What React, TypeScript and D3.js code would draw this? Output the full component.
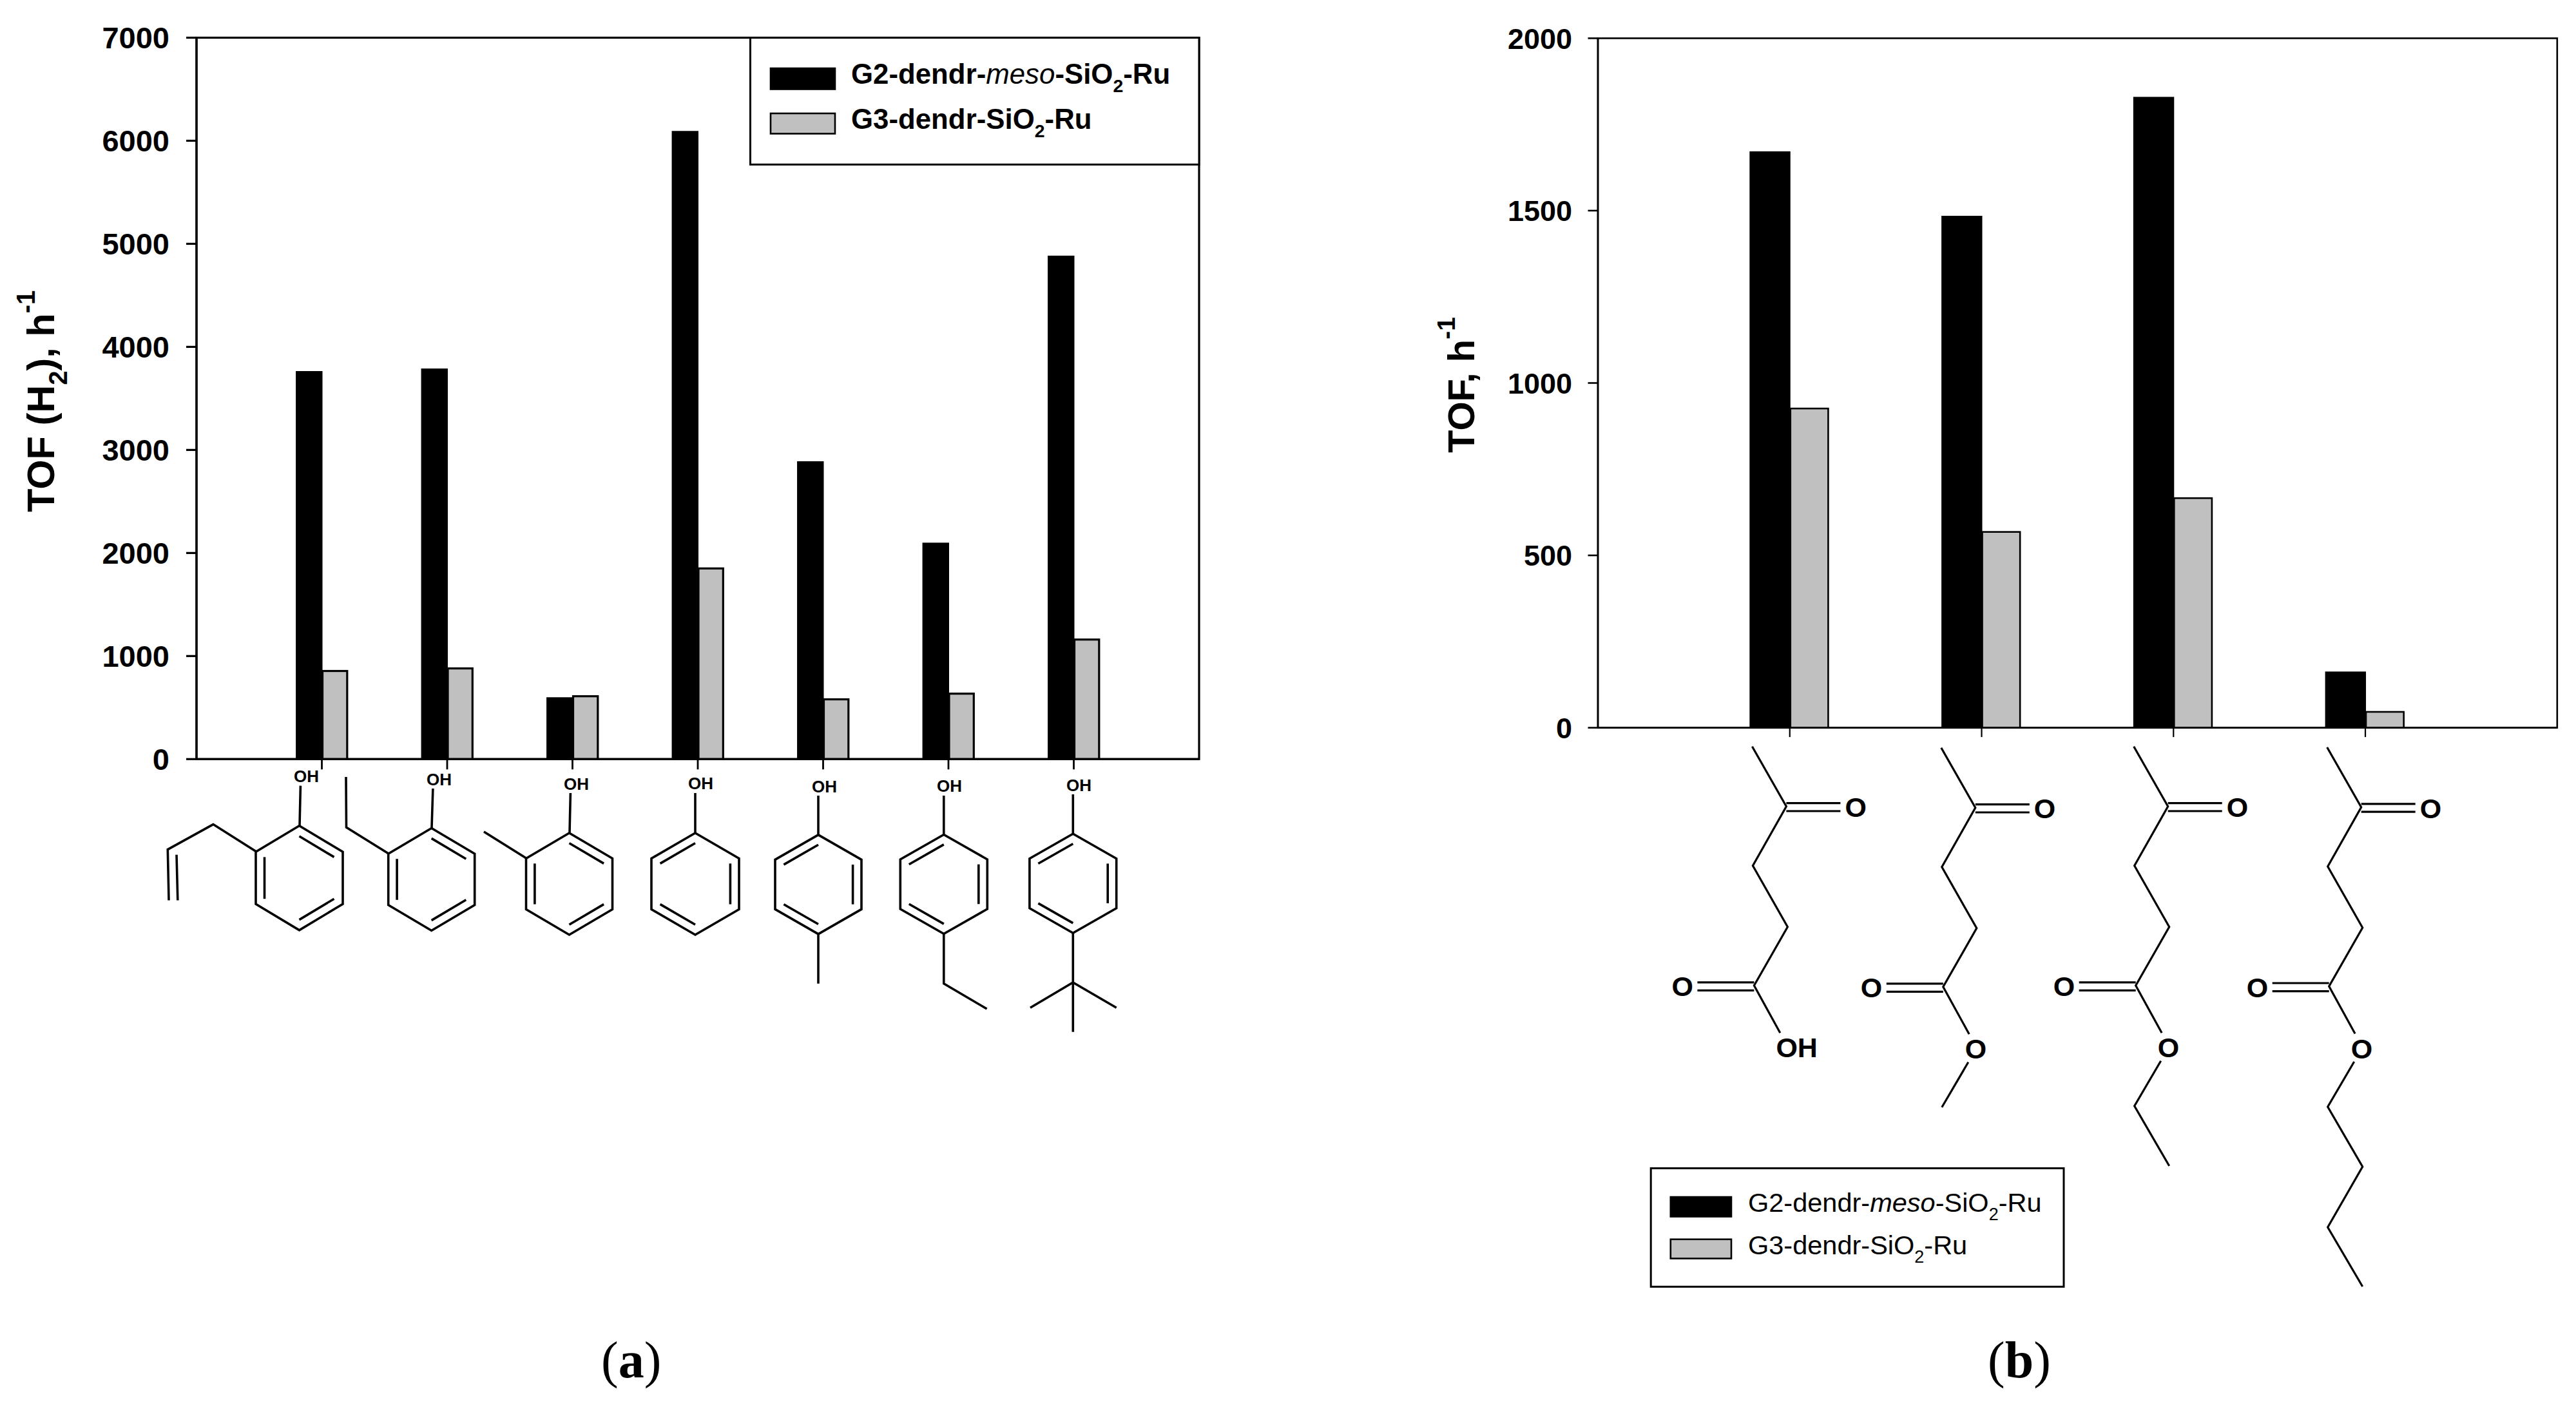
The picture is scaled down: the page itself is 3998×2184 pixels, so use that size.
import { useEffect, useRef } from "react";
import * as d3 from "d3";

// panel (a): phenols
const phenols = ["2-allylphenol", "2-ethylphenol", "2-methylphenol", "phenol", "4-methylphenol", "4-ethylphenol", "4-tert-butylphenol"];
const phenolG2 = [3765, 3790, 600, 6095, 2890, 2100, 4885];
const phenolG3 = [855, 880, 610, 1850, 580, 635, 1160];
const phenolTicks = [0, 1000, 2000, 3000, 4000, 5000, 6000, 7000];

// panel (b): levulinates
const esters = ["levulinic acid", "methyl levulinate", "ethyl levulinate", "butyl levulinate"];
const esterG2 = [1672, 1485, 1830, 163];
const esterG3 = [926, 568, 666, 46];
const esterTicks = [0, 500, 1000, 1500, 2000];

const SANS = "'Liberation Sans', Arial, sans-serif";
const SERIF = "'Liberation Serif', 'Times New Roman', serif";
const GREY = "#c0c0c0";

type Pt = [number, number];
type Span = { t: string; italic?: boolean; normal?: boolean; dy?: number; size?: number };

const path = d3.line<Pt>();

// ring, substituent bonds and OH label of each phenol
const rings = [
  { cx: 464.5, cy: 1362.8, hw: 67.5, hy: 81, para: false, oh: [456, 1214], bonds: [[[466.4, 1219.6], [465, 1282]], [[397.5, 1321.8], [330.9, 1279.6], [260.3, 1318.6], [262, 1397.5]], [[274, 1326.8], [275.8, 1397.5]]] },
  { cx: 669.7, cy: 1365, hw: 67, hy: 79.5, para: false, oh: [662, 1219], bonds: [[[671.9, 1224], [670, 1285.5]], [[603, 1325], [537.5, 1284.3], [537, 1206]]] },
  { cx: 883.5, cy: 1372, hw: 67, hy: 79, para: false, oh: [875, 1226], bonds: [[[885.4, 1231], [884, 1293]], [[816.5, 1332], [751, 1291]]] },
  { cx: 1079, cy: 1372, hw: 68, hy: 79, para: true, oh: [1068, 1225], bonds: [[[1079, 1231], [1079, 1293]]] },
  { cx: 1270, cy: 1372.9, hw: 67, hy: 77, para: true, oh: [1260, 1230], bonds: [[[1270, 1235], [1270, 1296]], [[1270, 1450], [1270, 1526.8]]] },
  { cx: 1464.8, cy: 1372.5, hw: 67.5, hy: 77, para: true, oh: [1454, 1229], bonds: [[[1464.8, 1235], [1464.8, 1295.5]], [[1464.8, 1449.5], [1464.8, 1526.8], [1531.6, 1566]]] },
  { cx: 1665.3, cy: 1371.3, hw: 67.4, hy: 77, para: true, oh: [1655, 1228], bonds: [[[1665.3, 1233], [1665.3, 1294.3]], [[1665.3, 1448.3], [1665.3, 1601.8]], [[1599, 1564.3], [1665.3, 1525], [1732.7, 1564.3]]] },
];

// shared skeleton of the levulinates, relative to the free end of the acetyl group
const chainOrigins: Pt[] = [[2719.4, 1158.8], [3012.8, 1160.8], [3311.7, 1158.8], [3611.7, 1160]];
const backbone: Pt[] = [[0, 0], [53, 93], [1, 185], [55, 280], [3, 371], [43.4, 444.5]];
const topCarbonyl: Pt[][] = [[[53, 87.8], [137, 87.8]], [[53, 100.2], [137, 100.2]]];
const lowCarbonyl: Pt[][] = [[[3, 366], [-85, 366]], [[3, 378.6], [-85, 378.6]]];
const tail: Pt[] = [[42, 488], [1, 558], [55, 651], [1, 745], [55, 837]];
const tailLengths = [0, 2, 3, 5];
const etherLabels = ["OH", "O", "O", "O"];

function addText(g: any, x: number, y: number, size: number, spans: Span[], attrs: Record<string, any> = {}) {
  const text = g.append("text").attr("x", x).attr("y", y).attr("font-size", size).attr("font-family", SANS).attr("fill", "#000");
  Object.entries(attrs).forEach(([k, v]) => text.attr(k, v));
  let lift = 0;
  spans.forEach((s) => {
    const dy = (s.dy ?? 0) - lift;
    lift = s.dy ?? 0;
    const span = text.append("tspan").attr("dy", dy).text(s.t);
    if (s.size) span.attr("font-size", s.size);
    if (s.italic) span.attr("font-style", "italic");
    if (s.normal) span.attr("font-weight", "normal");
  });
  return text;
}

function barPanel(svg: any, opts: {
  cats: string[]; g2: number[]; g3: number[]; ticks: number[]; max: number;
  left: number; right: number; top: number; bottom: number;
  sw: number; font: number; tick: number; pad: number; xTick: number; blackFrac: number; greyFrac: number;
}) {
  const { cats, g2, g3, ticks, max, left, right, top, bottom, sw, font, tick, pad, xTick, blackFrac, greyFrac } = opts;
  const x = d3.scalePoint<string>().domain(cats).range([left, right]).padding(1);
  const y = d3.scaleLinear().domain([0, max]).range([bottom, top]);
  const blackW = x.step() * blackFrac;
  const greyW = x.step() * greyFrac;
  const g = svg.append("g");

  g.append("rect").attr("x", left).attr("y", top).attr("width", right - left).attr("height", bottom - top)
    .attr("fill", "none").attr("stroke", "#000").attr("stroke-width", sw);

  g.selectAll("rect.g3").data(cats).join("rect").attr("class", "g3")
    .attr("x", (d: string) => x(d)! + 1)
    .attr("y", (_: string, i: number) => y(g3[i]))
    .attr("width", greyW)
    .attr("height", (_: string, i: number) => bottom - y(g3[i]))
    .attr("fill", GREY).attr("stroke", "#000").attr("stroke-width", sw);

  g.selectAll("rect.g2").data(cats).join("rect").attr("class", "g2")
    .attr("x", (d: string) => x(d)! - blackW + 1)
    .attr("y", (_: string, i: number) => y(g2[i]))
    .attr("width", blackW)
    .attr("height", (_: string, i: number) => bottom - y(g2[i]))
    .attr("fill", "#000");

  const yAxis = g.append("g").attr("transform", `translate(${left},0)`)
    .call(d3.axisLeft(y).tickValues(ticks).tickFormat(d3.format("d") as any).tickSize(tick).tickPadding(pad).tickSizeOuter(0).offset(0));
  yAxis.attr("font-family", SANS).attr("font-size", font).attr("font-weight", "bold");
  yAxis.selectAll("line").attr("stroke", "#000").attr("stroke-width", sw);
  yAxis.select(".domain").attr("stroke", "#000").attr("stroke-width", sw);
  yAxis.selectAll("text").attr("fill", "#000").attr("dy", "0.36em");

  const xAxis = g.append("g").attr("transform", `translate(0,${bottom})`)
    .call(d3.axisBottom(x).tickSize(xTick).tickFormat(() => "").tickSizeOuter(0).offset(0));
  xAxis.selectAll("line").attr("stroke", "#000").attr("stroke-width", sw - 0.4);
  xAxis.select(".domain").attr("stroke", "#000").attr("stroke-width", sw);
}

function legend(svg: any, o: {
  x0: number; x1: number; y0: number; y1: number; sw0: number; sw1: number; swY: Pt[]; textX: number; baselines: number[];
  size: number; sub: number; bold: boolean;
}) {
  const g = svg.append("g");
  g.append("rect").attr("x", o.x0).attr("y", o.y0).attr("width", o.x1 - o.x0).attr("height", o.y1 - o.y0)
    .attr("fill", "#fff").attr("stroke", "#000").attr("stroke-width", 3);
  o.swY.forEach(([a, b], i) => {
    g.append("rect").attr("x", o.sw0).attr("y", a).attr("width", o.sw1 - o.sw0).attr("height", b - a)
      .attr("fill", i === 0 ? "#000" : GREY).attr("stroke", "#000").attr("stroke-width", 2.6);
  });
  const sub = o.size * 0.65;
  const weight = o.bold ? "bold" : "normal";
  addText(g, o.textX, o.baselines[0], o.size, [
    { t: "G2-dendr-" }, { t: "meso", italic: true, normal: true }, { t: "-SiO" }, { t: "2", dy: o.sub, size: sub }, { t: "-Ru" },
  ], { "font-weight": weight });
  addText(g, o.textX, o.baselines[1], o.size, [
    { t: "G3-dendr-SiO" }, { t: "2", dy: o.sub, size: sub }, { t: "-Ru" },
  ], { "font-weight": weight });
}

function drawPhenols(svg: any) {
  const g = svg.append("g").attr("fill", "none").attr("stroke", "#000").attr("stroke-width", 3.6);
  rings.forEach((r) => {
    const v: Pt[] = [[0, -1], [1, -0.5], [1, 0.5], [0, 1], [-1, 0.5], [-1, -0.5]].map(([a, b]) => [r.cx + a * r.hw, r.cy + b * r.hy]);
    g.append("path").attr("d", path(v)! + "Z");
    const doubles = r.para ? [[5, 0], [1, 2], [3, 4]] : [[0, 1], [2, 3], [4, 5]];
    doubles.forEach(([a, b]) => {
      const inner = [v[a], v[b]].map(([px, py]) => [r.cx + 0.8 * (px - r.cx), r.cy + 0.8 * (py - r.cy)] as Pt);
      g.append("path").attr("d", path(inner));
    });
    r.bonds.forEach((b) => g.append("path").attr("d", path(b as Pt[])));
    addText(svg, r.oh[0], r.oh[1], 26, [{ t: "OH" }], { "font-weight": "bold" });
  });
}

function drawEsters(svg: any) {
  chainOrigins.forEach(([ox, oy], i) => {
    const g = svg.append("g").attr("transform", `translate(${ox},${oy})`);
    const bonds = g.append("g").attr("fill", "none").attr("stroke", "#000").attr("stroke-width", 3.2);
    bonds.append("path").attr("d", path(backbone));
    [...topCarbonyl, ...lowCarbonyl].forEach((b) => bonds.append("path").attr("d", path(b)));
    if (tailLengths[i] > 0) bonds.append("path").attr("d", path(tail.slice(0, tailLengths[i])));
    addText(g, 144, 109.5, 43, [{ t: "O" }], { "font-weight": "bold" });
    addText(g, -125, 387.5, 43, [{ t: "O" }], { "font-weight": "bold" });
    addText(g, 37, 482.5, 43, [{ t: etherLabels[i] }], { "font-weight": "bold" });
  });
}

function caption(svg: any, x: number, letter: string) {
  const text = svg.append("text").attr("x", x).attr("y", 2138).attr("font-family", SERIF).attr("font-size", 80).attr("fill", "#000");
  text.append("tspan").text("(");
  text.append("tspan").attr("font-weight", "bold").text(letter);
  text.append("tspan").text(")");
}

export default function App() {
  const svgRef = useRef<SVGSVGElement>(null);

  useEffect(() => {
    if (!svgRef.current) return;
    const svg = d3.select(svgRef.current);
    svg.selectAll("*").remove();

    barPanel(svg, {
      cats: phenols, g2: phenolG2, g3: phenolG3, ticks: phenolTicks, max: 7000,
      left: 305, right: 1861, top: 58.5, bottom: 1178.3,
      sw: 3.2, font: 47, tick: 16, pad: 26, xTick: 16, blackFrac: 0.213, greyFrac: 0.197,
    });
    barPanel(svg, {
      cats: esters, g2: esterG2, g3: esterG3, ticks: esterTicks, max: 2000,
      left: 2480, right: 3968.8, top: 59.4, bottom: 1129.6,
      sw: 2.6, font: 45, tick: 15.5, pad: 24.5, xTick: 14.5, blackFrac: 0.213, greyFrac: 0.197,
    });

    addText(svg, 84, 795, 59.5, [
      { t: "TOF (H" }, { t: "2", dy: 20, size: 40 }, { t: "), h" }, { t: "-1", dy: -30, size: 40 },
    ], { "font-weight": "bold", transform: "rotate(-90 84 795)" });
    addText(svg, 2288, 703, 58, [
      { t: "TOF, h" }, { t: "-1", dy: -30, size: 39 },
    ], { "font-weight": "bold", transform: "rotate(-90 2288 703)" });

    legend(svg, {
      x0: 1164.5, x1: 1861, y0: 58.5, y1: 255.4, sw0: 1196, sw1: 1296,
      swY: [[106, 138.5], [176, 207.5]], textX: 1321, baselines: [130, 200], size: 43.8, sub: 13, bold: true,
    });
    legend(svg, {
      x0: 2562.2, x1: 3203, y0: 1813.4, y1: 1997.3, sw0: 2592.8, sw1: 2687,
      swY: [[1858, 1888.5], [1923.7, 1953.5]], textX: 2713, baselines: [1881, 1947], size: 41.5, sub: 13, bold: false,
    });

    drawPhenols(svg);
    drawEsters(svg);

    caption(svg, 933, "a");
    caption(svg, 3085, "b");
  }, []);

  return (
    <svg
      ref={svgRef}
      width={3998}
      height={2184}
      style={{ position: "absolute", left: 0, top: 0, display: "block", background: "#fff" }}
    />
  );
}
